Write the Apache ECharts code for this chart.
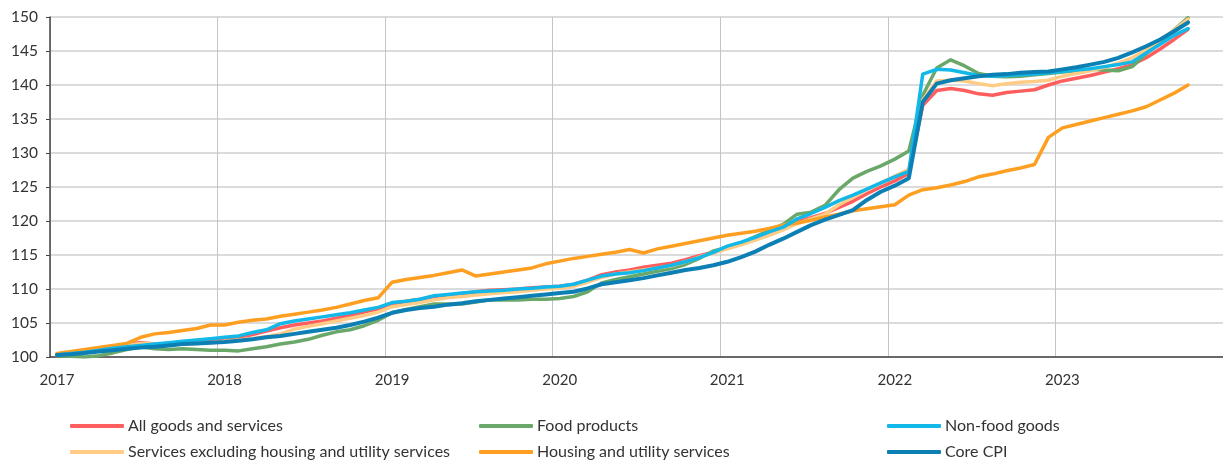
<!DOCTYPE html>
<html>
<head>
<meta charset="utf-8">
<script src="https://cdn.jsdelivr.net/npm/echarts@6/dist/echarts.min.js"></script>
<style>
html,body{margin:0;padding:0;background:#fff;}
#chart{width:1223px;height:461px;}
</style>
</head>
<body>
<div id="chart"></div>
<script>
// Monthly index, Jan 2017 = 100 (approx.), Jan 2017 .. Oct 2023
const years = [2017, 2018, 2019, 2020, 2021, 2022, 2023];
const yTicks = [100, 105, 110, 115, 120, 125, 130, 135, 140, 145, 150];

const allGoods = [
100.4,100.6,100.8,101.1,101.5,101.9,102.1,101.9,101.8,101.9,102.1,102.3,
102.6,102.9,103.3,103.8,104.3,104.7,105.0,105.3,105.7,106.1,106.6,107.1,
107.8,108.2,108.5,108.9,109.1,109.3,109.6,109.8,109.9,110.0,110.2,110.3,
110.4,110.7,111.3,112.1,112.5,112.8,113.2,113.5,113.8,114.3,114.9,115.4,
116.0,116.7,117.5,118.3,119.0,119.9,120.5,121.1,122.0,122.9,124.0,125.0,
125.9,127.0,137.0,139.2,139.5,139.2,138.7,138.5,138.9,139.1,139.3,140.0,
140.6,141.0,141.4,141.9,142.4,143.0,144.0,145.3,146.7,148.2];

const food = [
100.2,100.1,100.0,100.2,100.6,101.1,101.5,101.2,101.1,101.2,101.1,101.0,
101.0,100.9,101.2,101.5,101.9,102.2,102.6,103.2,103.7,104.0,104.6,105.4,
106.5,107.0,107.4,107.8,107.8,107.8,108.1,108.4,108.4,108.4,108.5,108.5,
108.6,108.9,109.6,110.9,111.4,111.8,112.2,112.6,113.0,113.6,114.5,115.6,
116.1,116.8,117.7,118.6,119.5,121.0,121.3,122.3,124.6,126.3,127.3,128.1,
129.1,130.3,138.5,142.5,143.7,142.8,141.7,141.3,141.2,141.3,141.5,141.7,
141.9,142.1,142.3,142.2,142.1,142.7,144.6,146.3,148.1,149.9];

const nonFood = [
100.3,100.5,100.7,101.0,101.3,101.5,101.7,101.9,102.1,102.3,102.5,102.7,
102.9,103.1,103.6,104.0,104.9,105.3,105.6,105.9,106.2,106.5,106.9,107.3,
108.0,108.2,108.5,109.0,109.2,109.4,109.6,109.7,109.8,110.0,110.1,110.3,
110.4,110.7,111.3,111.9,112.2,112.4,112.7,113.1,113.5,114.0,114.6,115.4,
116.3,116.9,117.6,118.4,119.1,120.3,121.1,122.0,123.0,123.8,124.7,125.6,
126.5,127.3,141.6,142.3,142.2,141.8,141.4,141.3,141.4,141.5,141.6,141.8,
142.0,142.2,142.4,142.7,143.0,143.4,144.7,146.0,147.3,148.3];

const services = [
100.3,100.5,100.8,101.1,101.4,101.7,102.0,101.9,101.8,101.9,102.0,102.1,
102.3,102.5,102.7,103.0,103.4,104.1,104.5,104.9,105.3,105.7,106.1,106.6,
107.4,107.7,108.0,108.4,108.7,108.9,109.1,109.3,109.5,109.6,109.8,110.0,
110.1,110.4,111.0,111.7,112.2,112.5,112.8,113.1,113.4,114.0,114.7,115.3,
115.9,116.5,117.2,117.9,118.7,119.6,120.3,121.0,122.4,123.5,124.6,125.6,
126.6,127.6,137.8,140.6,140.7,140.6,140.2,139.9,140.2,140.4,140.5,140.7,
141.3,141.7,142.1,142.6,143.2,144.0,145.2,146.6,148.1,149.7];

const housing = [
100.5,100.8,101.1,101.4,101.7,102.0,102.9,103.4,103.6,103.9,104.2,104.7,
104.7,105.1,105.4,105.6,106.0,106.3,106.6,106.9,107.3,107.8,108.3,108.7,
111.0,111.4,111.7,112.0,112.4,112.8,111.9,112.2,112.5,112.8,113.1,113.7,
114.1,114.5,114.8,115.1,115.4,115.8,115.3,115.9,116.3,116.7,117.1,117.5,
117.9,118.2,118.5,118.9,119.4,119.7,120.1,120.6,121.0,121.5,121.8,122.1,
122.4,123.8,124.6,124.9,125.3,125.8,126.5,126.9,127.4,127.8,128.3,132.3,
133.7,134.2,134.7,135.2,135.7,136.2,136.8,137.8,138.8,140.0];

const coreCPI = [
100.3,100.4,100.6,100.8,101.0,101.2,101.4,101.5,101.7,101.9,102.0,102.1,
102.2,102.4,102.6,102.9,103.1,103.4,103.7,104.0,104.3,104.7,105.2,105.8,
106.5,106.9,107.2,107.4,107.7,107.9,108.2,108.4,108.6,108.8,109.0,109.2,
109.4,109.6,110.1,110.7,111.0,111.3,111.6,112.0,112.4,112.8,113.1,113.5,
114.0,114.7,115.5,116.5,117.4,118.4,119.4,120.2,120.9,121.6,123.1,124.3,
125.2,126.3,137.5,140.2,140.7,141.0,141.3,141.5,141.6,141.8,141.9,142.0,
142.3,142.6,143.0,143.4,144.0,144.8,145.7,146.7,147.9,149.2];

const seriesNames = [
  'All goods and services', 'Food products', 'Non-food goods',
  'Services excluding housing and utility services', 'Housing and utility services', 'Core CPI'
];
const colors = {
  'All goods and services': '#ff5e5e',
  'Food products': '#6aa86a',
  'Non-food goods': '#12b8e8',
  'Services excluding housing and utility services': '#ffcb85',
  'Housing and utility services': '#ff9f22',
  'Core CPI': '#0c80b4'
};

// categories: every month Jan 2017 .. Dec 2023
const categories = [];
years.forEach(y => { for (let m = 1; m <= 12; m++) categories.push(y + '-' + (m < 10 ? '0' + m : m)); });

const dataMap = {
  'All goods and services': allGoods,
  'Food products': food,
  'Non-food goods': nonFood,
  'Services excluding housing and utility services': services,
  'Housing and utility services': housing,
  'Core CPI': coreCPI
};
const drawOrder = ['All goods and services', 'Food products', 'Services excluding housing and utility services',
  'Housing and utility services', 'Non-food goods', 'Core CPI'];

const FONT = 'Lato, "Open Sans", sans-serif';
const legendCols = [70, 479, 887];
const legendRows = [418, 444];
const legends = seriesNames.map((name, i) => ({
  orient: 'horizontal',
  left: legendCols[i % 3],
  top: legendRows[Math.floor(i / 3)],
  padding: 0,
  itemWidth: 54,
  itemHeight: 4,
  itemGap: 0,
  icon: 'roundRect',
  textStyle: { fontFamily: FONT, fontSize: 16, color: '#333', padding: [0, 0, 0, -1] },
  selectedMode: false,
  data: [name]
}));

const chart = echarts.init(document.getElementById('chart'), null, { renderer: 'canvas' });
chart.setOption({
  animation: false,
  backgroundColor: '#fff',
  grid: { left: 50, top: 17, width: 1173.5, height: 340, containLabel: false },
  legend: legends,
  xAxis: {
    type: 'category',
    data: categories,
    boundaryGap: true,
    axisLine: { lineStyle: { color: '#444', width: 1.5 } },
    axisTick: {
      alignWithLabel: false,
      length: 5,
      lineStyle: { color: '#444' },
      interval: (i) => i % 12 === 0
    },
    axisLabel: {
      interval: (i) => i % 12 === 0,
      formatter: (v) => v.slice(0, 4),
      fontFamily: FONT, fontSize: 15, color: '#333', margin: 16
    },
    splitLine: {
      show: true,
      interval: (i) => i % 12 === 0,
      lineStyle: { color: '#c4c4c4', width: 1 }
    }
  },
  yAxis: {
    type: 'value',
    min: yTicks[0],
    max: yTicks[yTicks.length - 1],
    interval: yTicks[1] - yTicks[0],
    axisLine: { show: true, lineStyle: { color: '#444', width: 1.5 } },
    axisTick: { show: true, length: 4, lineStyle: { color: '#444' } },
    axisLabel: { fontFamily: FONT, fontSize: 15.5, color: '#333', margin: 12 },
    splitLine: { show: true, lineStyle: { color: '#cfcfcf', width: 1.5 } }
  },
  series: drawOrder.map(name => ({
    name: name,
    type: 'line',
    data: dataMap[name],
    showSymbol: false,
    symbol: 'none',
    smooth: false,
    color: colors[name],
    lineStyle: { width: name === 'Core CPI' ? 4 : 3.5, color: colors[name], cap: 'round', join: 'round' },
    emphasis: { disabled: true }
  }))
});
</script>
</body>
</html>
